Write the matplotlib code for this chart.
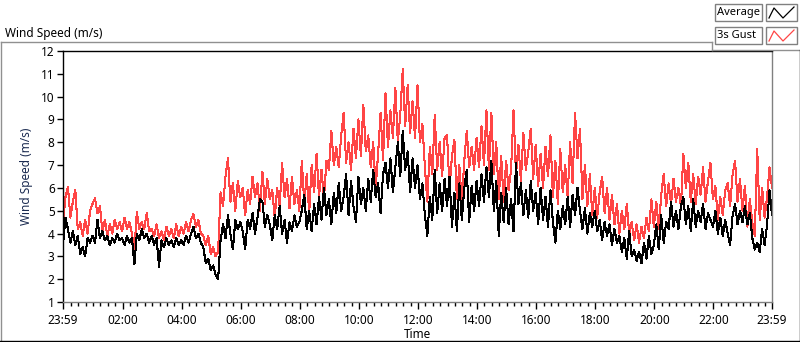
import matplotlib
matplotlib.use("Agg")
import matplotlib.pyplot as plt
from matplotlib.lines import Line2D
from matplotlib.patches import Rectangle
import numpy as np

plt.rcParams['font.family'] = ['Noto Sans', 'DejaVu Sans']

# one reading every 5 minutes, starting 23:59 the day before
step_min = 5

# 3s gust (m/s), one row per hour
gust = [
    4.4, 5.6, 6.05, 4.7, 5.4, 5.9, 4.2, 4.5, 3.9, 4.6, 4.0, 5.0,
    5.3, 5.55, 4.9, 5.2, 4.1, 4.6, 3.9, 4.4, 4.0, 4.6, 4.2, 4.5,
    4.1, 4.7, 4.2, 4.5, 4.0, 3.3, 4.95, 4.2, 4.5, 4.2, 4.9, 4.1,
    4.2, 3.9, 4.4, 3.8, 4.1, 3.7, 4.3, 3.9, 4.2, 3.8, 4.4, 3.9,
    4.3, 4.0, 4.5, 4.1, 4.6, 4.85, 4.3, 4.6, 4.0, 3.9, 3.5, 3.9,
    3.1, 3.4, 3.0, 3.2, 5.8, 5.2, 6.5, 7.3, 5.4, 6.2, 5.0, 6.3,
    5.6, 6.0, 4.8, 5.9, 5.3, 6.5, 5.6, 6.2, 5.0, 6.7, 5.3, 6.4,
    5.5, 5.9, 4.7, 6.0, 5.2, 7.1, 5.6, 6.4, 5.1, 6.5, 5.3, 5.9,
    5.0, 7.2, 5.3, 6.6, 4.9, 7.0, 5.8, 7.5, 5.6, 6.8, 5.5, 7.2,
    6.8, 8.5, 7.0, 7.8, 6.9, 8.3, 9.3, 7.1, 8.0, 6.8, 8.6, 7.3,
    9.0, 7.4, 9.65, 7.6, 8.3, 6.9, 8.0, 6.0, 7.5, 9.3, 7.2, 10.15,
    7.8, 9.4, 8.2, 10.4, 8.0, 9.2, 11.2, 8.7, 10.5, 8.4, 9.8, 8.2,
    10.5, 8.0, 8.8, 6.9, 5.4, 7.8, 6.6, 9.2, 6.8, 8.0, 6.5, 8.2,
    8.3, 6.0, 7.4, 8.1, 5.5, 7.0, 5.3, 7.2, 8.5, 6.9, 7.8, 6.8,
    8.2, 6.9, 8.7, 7.0, 9.4, 6.8, 9.3, 6.6, 8.0, 5.5, 7.4, 5.4,
    7.2, 5.9, 6.8, 9.4, 6.6, 7.9, 6.3, 8.4, 6.8, 7.6, 8.6, 6.4,
    7.9, 6.1, 7.5, 6.0, 7.8, 6.5, 8.3, 5.6, 7.2, 5.3, 7.7, 5.8,
    7.0, 5.6, 8.0, 6.2, 9.3, 7.3, 8.6, 5.5, 7.0, 5.2, 6.6, 4.8,
    6.0, 4.7, 5.8, 6.5, 4.9, 6.0, 4.6, 5.7, 4.4, 5.3, 4.0, 5.0,
    4.2, 5.3, 4.0, 4.5, 3.7, 4.4, 3.6, 4.3, 3.8, 4.7, 4.1, 5.5,
    4.3, 5.4, 4.2, 5.7, 6.6, 5.2, 6.2, 5.3, 6.4, 5.4, 6.0, 5.2,
    7.5, 6.0, 7.1, 5.4, 6.6, 5.3, 6.5, 5.7, 6.9, 5.4, 6.3, 7.1,
    5.5, 6.1, 4.6, 5.6, 4.8, 5.9, 6.2, 5.2, 6.6, 7.2, 5.4, 6.4,
    5.0, 6.1, 4.3, 5.5, 4.5, 3.9, 7.7, 4.6, 6.0, 4.7, 5.6, 6.9, 6.0,
]

# average (m/s), one row per hour
average = [
    3.5, 4.7, 4.2, 3.6, 4.1, 3.5, 3.9, 3.1, 3.4, 3.0, 3.8, 3.6,
    3.9, 3.6, 4.6, 3.8, 4.1, 3.7, 3.9, 3.5, 3.8, 3.6, 4.0, 3.7,
    3.8, 3.5, 3.9, 3.6, 3.8, 2.65, 4.0, 3.7, 4.2, 3.8, 4.0, 3.6,
    3.9, 3.5, 3.8, 2.55, 3.7, 3.4, 3.8, 3.5, 3.7, 3.4, 3.8, 3.5,
    3.7, 3.5, 3.9, 3.6, 4.0, 4.3, 3.8, 4.0, 3.6, 3.4, 2.7, 2.9,
    2.4, 2.6, 2.2, 2.0, 3.7, 4.4, 3.8, 4.8, 4.0, 3.3, 4.6, 4.2,
    4.5, 4.1, 3.3, 4.6, 4.2, 4.9, 4.0, 4.7, 5.5, 5.4, 4.3, 4.8,
    4.4, 3.7, 4.8, 4.2, 5.2, 4.0, 4.6, 3.6, 4.5, 4.1, 4.8, 4.3,
    4.5, 5.0, 5.7, 4.2, 5.0, 4.1, 5.3, 4.4, 5.6, 4.6, 6.0, 4.8,
    5.5, 4.4, 5.8, 4.9, 6.2, 5.0, 5.6, 6.6, 4.8, 6.3, 5.2, 4.5,
    6.5, 5.3, 6.0, 5.0, 6.4, 5.4, 6.8, 5.6, 6.2, 4.9, 6.6, 7.1,
    6.0, 7.3, 5.8, 6.9, 8.0, 6.5, 8.5, 6.8, 7.6, 5.8, 7.3, 6.0,
    7.0, 5.5, 6.2, 4.8, 3.9, 5.6, 4.6, 6.8, 4.9, 6.2, 5.0, 6.4,
    5.2, 6.5, 4.3, 5.8, 4.1, 6.2, 4.6, 6.0, 6.8, 4.5, 6.1, 5.0,
    6.3, 5.2, 6.6, 5.4, 6.9, 5.6, 7.2, 5.0, 6.3, 3.9, 5.8, 4.5,
    6.0, 4.4, 5.5, 4.1, 7.1, 5.3, 6.2, 4.8, 5.9, 4.7, 6.3, 5.0,
    5.8, 4.4, 6.0, 4.6, 5.6, 4.3, 5.9, 4.5, 3.6, 5.0, 4.2, 5.2,
    4.4, 5.6, 4.3, 5.7, 4.8, 6.0, 5.0, 4.2, 5.1, 4.0, 4.9, 4.3,
    5.0, 4.1, 4.6, 3.7, 4.5, 3.9, 4.4, 3.5, 4.2, 3.6, 3.9, 3.2,
    3.8, 2.9, 4.1, 3.0, 3.3, 2.8, 3.2, 2.7, 3.6, 2.9, 3.9, 3.1,
    3.5, 4.4, 3.3, 4.8, 3.6, 4.5, 4.2, 5.4, 4.3, 5.0, 4.2, 5.2,
    5.6, 4.4, 5.2, 4.1, 5.5, 4.3, 5.0, 4.5, 5.3, 4.2, 4.9, 4.6,
    4.3, 5.0, 4.0, 4.7, 3.9, 4.6, 4.0, 3.5, 4.8, 5.3, 4.4, 5.0,
    4.5, 5.2, 4.4, 4.9, 3.8, 3.3, 3.6, 3.2, 4.2, 3.5, 4.4, 5.9, 4.8,
]

tick_labels = ['23:59', '02:00', '04:00', '06:00', '08:00', '10:00', '12:00',
               '14:00', '16:00', '18:00', '20:00', '22:00', '23:59']

W, H = 800, 342


def px(x, y):
    # pixel position (from top-left) to figure fraction
    return x / W, 1 - y / H


fig = plt.figure(figsize=(8, 3.42), dpi=100)
ax = fig.add_axes([63 / W, (H - 302) / H, (772 - 63) / W, (302 - 51) / H])

t = np.arange(len(gust)) * step_min
ax.plot(t, gust, color='#ff4545', lw=0.75, antialiased=False)
ax.plot(t[:len(average)], average, color='black', lw=0.75, antialiased=False)

ax.set_xlim(0, 1440)
ax.set_ylim(1, 12)
ax.set_yticks(range(1, 13))

# majors on the even hours (minutes after 23:59), minors on quarter hours
majors = [0] + [121 + 120 * i for i in range(11)] + [1440]
minors = [1 + 15 * k for k in range(96) if (1 + 15 * k) % 120 != 1]
ax.set_xticks(majors)
ax.set_xticklabels(tick_labels)
ax.set_xticks(minors, minor=True)

ax.tick_params(axis='both', which='major', direction='out', length=4, width=1,
               labelsize=8.5, pad=2, colors='black')
ax.tick_params(axis='x', which='major', length=5, pad=4)
ax.tick_params(axis='x', which='minor', direction='out', length=3, width=1)

for side in ['top', 'left']:
    ax.spines[side].set_color('black')
for side in ['right', 'bottom']:
    ax.spines[side].set_color('#808080')
for sp in ax.spines.values():
    sp.set_linewidth(1)

ax.set_xlabel('Time', fontsize=8.5, labelpad=0)
ax.set_ylabel('Wind Speed (m/s)', fontsize=8.5, color='#1a2a50', labelpad=6)

# title of the panel
fig.text(*px(5, 33), 'Wind Speed (m/s)', fontsize=8.5, va='center', ha='left')

# outer panel frame
frame = [((0.5, 42), (0.5, 341)), ((0.5, 42), (712, 42)), ((712, 42), (712, 50)),
         ((712, 50), (800, 50))]
for a, b in frame:
    fig.add_artist(Line2D([px(*a)[0], px(*b)[0]], [px(*a)[1], px(*b)[1]],
                          color='#909090', lw=1))
for a, b in [((0, 340.5), (799.5, 340.5)), ((799.5, 50), (799.5, 341))]:
    fig.add_artist(Line2D([px(*a)[0], px(*b)[0]], [px(*a)[1], px(*b)[1]],
                          color='black', lw=1))

# legend boxes
legend = [('Average', 'black', 4), ('3s Gust', '#ff4545', 27)]
for name, col, top in legend:
    x0, y0 = px(715, top + 17)
    fig.add_artist(Rectangle((x0, y0), 47 / W, 17 / H, facecolor='white',
                             edgecolor='#808080', lw=1))
    fig.text(*px(717, top + 8.5), name, fontsize=8, va='center', ha='left')
    x1, y1 = px(766, top + 17)
    fig.add_artist(Rectangle((x1, y1), 31 / W, 17 / H, facecolor='white',
                             edgecolor='#808080', lw=1))
    zx = [769, 774, 783, 794]
    zy = [top + 14, top + 4, top + 14, top + 3]
    fig.add_artist(Line2D([px(a, 0)[0] for a in zx], [px(0, b)[1] for b in zy],
                          color=col, lw=0.9))

fig.savefig('out.png', dpi=100)
